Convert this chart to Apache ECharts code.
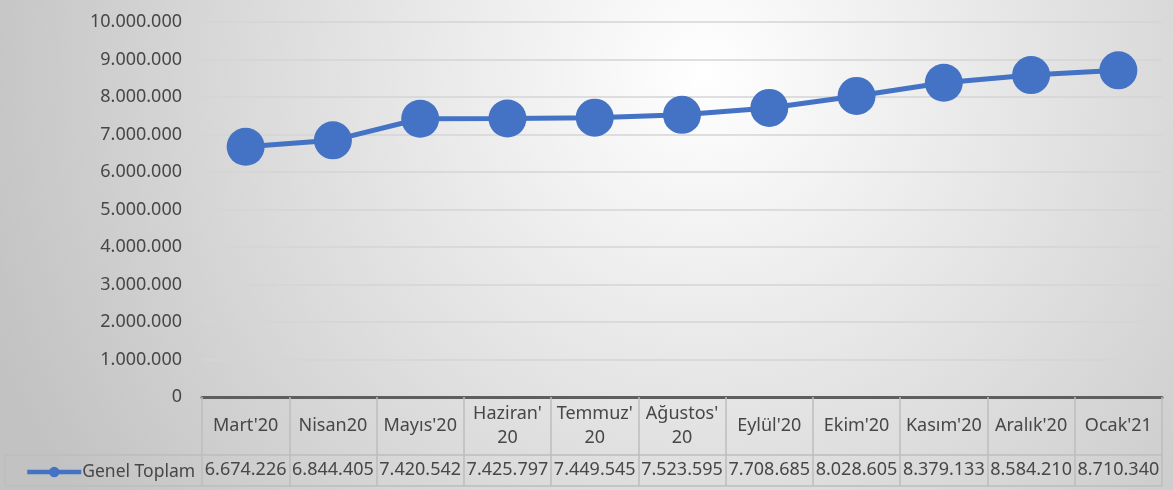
<!DOCTYPE html>
<html>
<head>
<meta charset="utf-8">
<script src="https://cdn.jsdelivr.net/npm/echarts@6/dist/echarts.min.js"></script>
<style>
  html, body { margin: 0; padding: 0; }
  #chart { width: 1173px; height: 490px; }
</style>
</head>
<body>
<div id="chart"></div>
<script>
'use strict'

// data
const categories = ["Mart'20", 'Nisan20', "Mayıs'20", "Haziran'\n20", "Temmuz'\n20", "Ağustos'\n20",
  "Eylül'20", "Ekim'20", "Kasım'20", "Aralık'20", "Ocak'21"];
const genelToplam = [6674226, 6844405, 7420542, 7425797, 7449545, 7523595,
  7708685, 8028605, 8379133, 8584210, 8710340];
const seriesName = 'Genel Toplam';

const FONT = 'Noto Sans';
const TEXT_COLOR = '#474747';
const BLUE = '#4472C4';
const TABLE_LINE = '#bdbdbd';

function dotted(v) {
  return String(v).replace(/\B(?=(\d{3})+(?!\d))/g, '.');
}

const chart = echarts.init(document.getElementById('chart'));

const option = {
  animation: false,
  backgroundColor: {
    type: 'radial', x: 0.6, y: 0.15, r: 1.55,
    colorStops: [
      {offset: 0, color: '#ffffff'},
      {offset: 1, color: '#c2c2c2'}
    ]
  },
  textStyle: {fontFamily: FONT},
  grid: {left: 202, right: 11, top: 22, bottom: 93, containLabel: false},
  legend: {
    left: 20, top: 458,
    itemWidth: 54, itemHeight: 13, itemGap: 0,
    lineStyle: {width: 4.5},
    textStyle: {fontFamily: FONT, fontSize: 17.5, color: TEXT_COLOR, padding: [0, 0, 0, -4]},
    data: [seriesName]
  },
  xAxis: [
    {
      type: 'category',
      data: categories,
      boundaryGap: true,
      position: 'bottom',
      axisLine: {show: true, lineStyle: {color: '#5e5e5e', width: 3}},
      axisTick: {show: true, interval: 0, length: 58, lineStyle: {color: TABLE_LINE, width: 1.5}},
      axisLabel: {
        interval: 0, margin: 29, verticalAlign: 'middle', lineHeight: 24,
        fontFamily: FONT, fontSize: 18, color: TEXT_COLOR
      },
      splitLine: {show: false}
    },
    {
      type: 'category',
      data: genelToplam.map(dotted),
      boundaryGap: true,
      position: 'bottom',
      offset: 58,
      axisLine: {show: true, lineStyle: {color: TABLE_LINE, width: 1.5}},
      axisTick: {show: true, interval: 0, length: 31, lineStyle: {color: TABLE_LINE, width: 1.5}},
      axisLabel: {
        interval: 0, margin: 15, verticalAlign: 'middle',
        fontFamily: FONT, fontSize: 18, color: TEXT_COLOR
      },
      splitLine: {show: false}
    }
  ],
  yAxis: {
    type: 'value',
    min: 0, max: 10000000, interval: 1000000,
    axisLine: {show: false},
    axisTick: {show: false},
    axisLabel: {
      margin: 20, fontFamily: FONT, fontSize: 18, color: TEXT_COLOR,
      formatter: (v) => dotted(v)
    },
    splitLine: {lineStyle: {color: '#d4d4d4', width: 1.5}}
  },
  series: [{
    name: seriesName,
    type: 'line',
    data: genelToplam,
    symbol: 'circle',
    symbolSize: 38,
    lineStyle: {color: BLUE, width: 5},
    itemStyle: {color: BLUE},
    z: 5
  }],
  graphic: [
    // legend cell borders of the data table
    {type: 'line', silent: true, shape: {x1: 5, y1: 455, x2: 202, y2: 455},
      style: {stroke: TABLE_LINE, lineWidth: 1.5}},
    {type: 'line', silent: true, shape: {x1: 5, y1: 486, x2: 1162, y2: 486},
      style: {stroke: TABLE_LINE, lineWidth: 1.5}},
    {type: 'line', silent: true, shape: {x1: 5, y1: 455, x2: 5, y2: 486},
      style: {stroke: TABLE_LINE, lineWidth: 1.5}}
  ]
};

chart.setOption(option);
</script>
</body>
</html>
